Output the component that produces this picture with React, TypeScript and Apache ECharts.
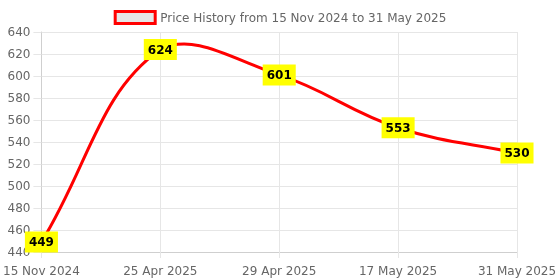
import React, { useEffect, useRef } from "react";
import * as echarts from "echarts";

const categories = ["15 Nov 2024", "25 Apr 2025", "29 Apr 2025", "17 May 2025", "31 May 2025"];
const prices = [449, 624, 601, 553, 530];
const seriesName = "Price History from 15 Nov 2024 to 31 May 2025";

const TENSION = 0.4;

function renderCurve(params: any, api: any) {
  const cs = params.coordSys;
  const pts = prices.map((v, i) => api.coord([i, v]));
  const clampX = (x: number) => Math.max(cs.x, Math.min(cs.x + cs.width, x));
  const clampY = (y: number) => Math.max(cs.y, Math.min(cs.y + cs.height, y));
  const cps = pts.map((cur, i) => {
    const prev = pts[i - 1] || cur;
    const next = pts[i + 1] || cur;
    const d01 = Math.hypot(cur[0] - prev[0], cur[1] - prev[1]);
    const d12 = Math.hypot(next[0] - cur[0], next[1] - cur[1]);
    let s01 = d01 / (d01 + d12);
    let s12 = d12 / (d01 + d12);
    if (isNaN(s01)) s01 = 0;
    if (isNaN(s12)) s12 = 0;
    const fa = TENSION * s01;
    const fb = TENSION * s12;
    return {
      prev: [clampX(cur[0] - fa * (next[0] - prev[0])), clampY(cur[1] - fa * (next[1] - prev[1]))],
      next: [clampX(cur[0] + fb * (next[0] - prev[0])), clampY(cur[1] + fb * (next[1] - prev[1]))],
    };
  });
  const children: any[] = [];
  for (let i = 0; i < pts.length - 1; i++) {
    children.push({
      type: "bezierCurve",
      shape: {
        x1: pts[i][0],
        y1: pts[i][1],
        x2: pts[i + 1][0],
        y2: pts[i + 1][1],
        cpx1: cps[i].next[0],
        cpy1: cps[i].next[1],
        cpx2: cps[i + 1].prev[0],
        cpy2: cps[i + 1].prev[1],
      },
      style: { stroke: "#ff0000", lineWidth: 3, fill: null },
    });
  }
  return { type: "group", children };
}

export default function App() {
  const ref = useRef<HTMLDivElement>(null);
  useEffect(() => {
    const chart = echarts.init(ref.current!, null, { renderer: "svg" });
    const font = "DejaVu Sans";
    chart.setOption({
      animation: false,
      textStyle: { fontFamily: font },
      legend: {
        top: 10,
        left: "center",
        padding: 0,
        itemWidth: 40,
        itemHeight: 12,
        itemGap: 10,
        textStyle: { color: "#666", fontSize: 12, fontFamily: font },
        data: [
          {
            name: seriesName,
            icon: "rect",
            itemStyle: { color: "#e6e6e6", borderColor: "#ff0000", borderWidth: 3 },
          },
        ],
      },
      grid: { left: 41, right: 43, top: 32, bottom: 28, containLabel: false },
      xAxis: {
        type: "category",
        data: categories,
        boundaryGap: false,
        axisLine: { show: true, lineStyle: { color: "#cfcfcf" } },
        axisTick: { show: true, length: 6, lineStyle: { color: "#e6e6e6" } },
        axisLabel: { color: "#666", fontSize: 12, margin: 13, fontFamily: font, showMaxLabel: true, showMinLabel: true },
        splitLine: { show: true, lineStyle: { color: "#e6e6e6" } },
      },
      yAxis: {
        type: "value",
        min: 440,
        max: 640,
        interval: 20,
        axisLine: { show: true, lineStyle: { color: "#cfcfcf" } },
        axisTick: { show: true, length: 8, lineStyle: { color: "#e6e6e6" } },
        axisLabel: { color: "#666", fontSize: 12, margin: 11, fontFamily: font },
        splitLine: { show: true, lineStyle: { color: "#e6e6e6" } },
      },
      series: [
        {
          name: "curve",
          type: "custom",
          data: [[0, prices[0]]],
          renderItem: renderCurve,
          z: 2,
          silent: true,
        },
        {
          name: seriesName,
          type: "line",
          data: prices,
          symbol: "circle",
          symbolSize: 0,
          showSymbol: true,
          z: 5,
          lineStyle: { color: "#ff0000", width: 0, opacity: 0 },
          itemStyle: { color: "#ff0000" },
          label: {
            show: true,
            position: "inside",
            backgroundColor: "#ffff00",
            color: "#000",
            fontWeight: "bold",
            fontSize: 12,
            fontFamily: font,
            padding: [5, 4, 4, 4],
          },
        },
      ],
    });
    return () => chart.dispose();
  }, []);
  return <div ref={ref} style={{ width: 560, height: 280, position: "fixed", left: 0, top: 0 }} />;
}
